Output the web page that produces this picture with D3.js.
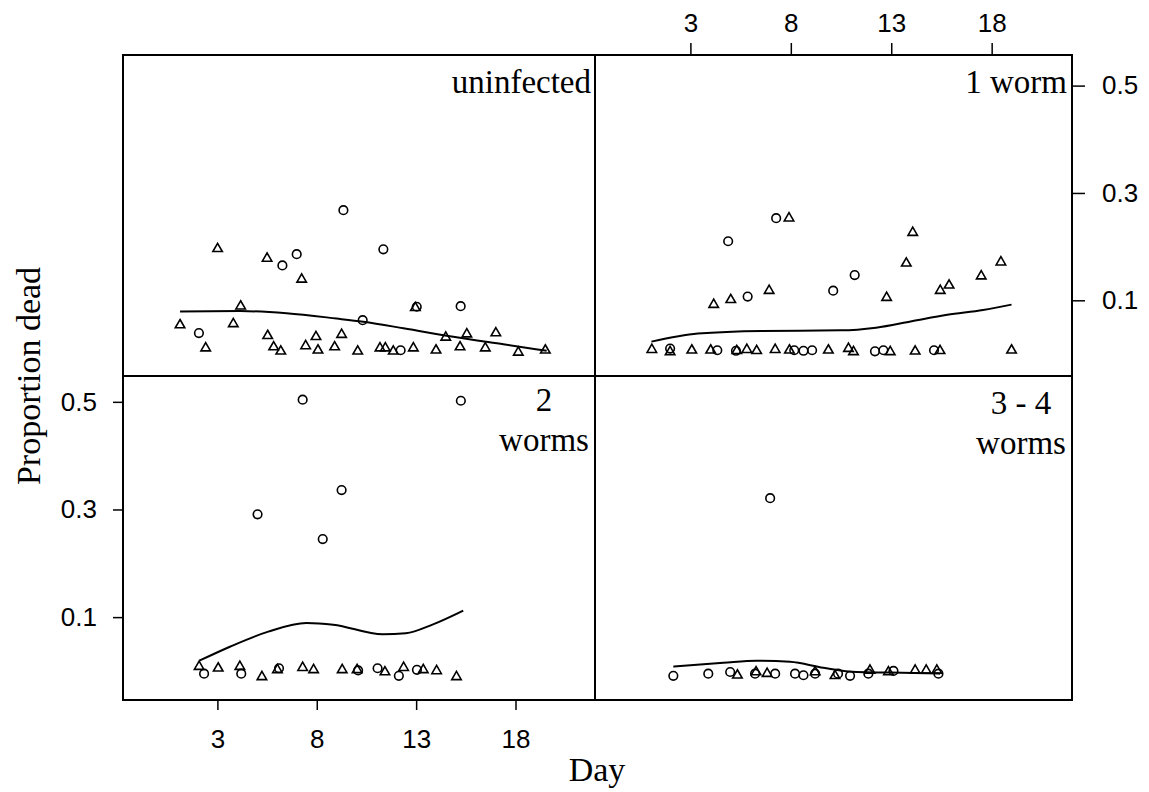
<!DOCTYPE html>
<html>
<head>
<meta charset="utf-8">
<script src="https://cdn.jsdelivr.net/npm/d3@7"></script>
<style>
  html, body { margin: 0; padding: 0; background: #fff; }
  svg { display: block; }
</style>
</head>
<body>
<svg id="chart" width="1149" height="792"></svg>
<script>
// ---- data: [day, proportion dead] ----
const dayTicks = [3, 8, 13, 18];
const propTicks = [0.1, 0.3, 0.5];
const panelNames = ["uninfected", "1 worm", "2 worms", "3 - 4 worms"];
const panelLabelLines = [["uninfected"], ["1 worm"], ["2", "worms"], ["3 - 4", "worms"]];

const uninfectedCircles = [[2.07,0.039],[6.27,0.165],[6.99,0.186],[9.34,0.268],[10.31,0.063],[11.35,0.195],[12.22,0.007],[13.03,0.088],[15.24,0.089]];
const uninfectedTriangles = [[1.12,0.054],[2.41,0.011],[3.01,0.196],[3.80,0.056],[4.17,0.089],[5.50,0.178],[5.53,0.034],[5.83,0.013],[6.19,0.005],[7.24,0.139],[7.44,0.015],[7.96,0.032],[8.06,0.007],[8.90,0.013],[9.25,0.036],[10.06,0.005],[11.18,0.011],[11.45,0.011],[11.85,0.005],[12.86,0.011],[12.96,0.086],[14.00,0.007],[14.49,0.031],[15.21,0.013],[15.55,0.037],[16.48,0.011],[17.01,0.039],[18.14,0.003],[19.50,0.007]];
const uninfectedSmooth = [[1.12,0.079],[4.14,0.080],[6.48,0.076],[9.00,0.066],[10.34,0.060],[12.36,0.048],[14.87,0.032],[17.39,0.018],[19.57,0.006]];

const oneWormCircles = [[4.88,0.210],[7.27,0.253],[5.85,0.107],[10.11,0.118],[11.18,0.147],[1.99,0.010],[4.34,0.007],[5.27,0.006],[8.17,0.007],[8.63,0.006],[9.06,0.007],[12.19,0.005],[12.61,0.007],[15.13,0.007]];
const oneWormTriangles = [[7.91,0.253],[14.07,0.226],[13.75,0.169],[18.46,0.171],[17.48,0.145],[15.88,0.128],[15.44,0.118],[12.77,0.105],[6.92,0.118],[5.01,0.101],[4.16,0.092],[1.08,0.008],[1.99,0.004],[3.07,0.007],[4.01,0.007],[5.31,0.006],[5.81,0.008],[6.30,0.006],[7.22,0.008],[7.93,0.007],[9.87,0.007],[10.87,0.010],[11.12,0.004],[12.95,0.004],[14.19,0.005],[15.43,0.006],[18.99,0.007]];
const oneWormSmooth = [[1.06,0.023],[3.37,0.038],[6.56,0.043],[10.47,0.044],[12.24,0.049],[14.02,0.061],[15.79,0.073],[17.57,0.082],[18.99,0.092]];

const twoWormsCircles = [[7.29,0.504],[15.25,0.502],[9.25,0.336],[5.02,0.291],[8.30,0.245],[2.33,-0.005],[4.20,-0.005],[6.10,0.005],[10.08,0.001],[11.06,0.005],[12.13,-0.009],[13.04,0.002]];
const twoWormsTriangles = [[2.08,0.008],[3.04,0.005],[4.13,0.008],[5.24,-0.011],[6.02,0.002],[7.29,0.006],[7.84,0.002],[9.28,0.002],[10.03,0.002],[11.43,-0.002],[12.37,0.006],[13.36,0.002],[14.03,0.000],[15.03,-0.011]];
const twoWormsSmooth = [[2.09,0.019],[3.63,0.045],[5.56,0.073],[7.48,0.089],[8.83,0.086],[11.32,0.068],[12.48,0.070],[13.82,0.086],[15.37,0.112]];

const threeFourCircles = [[6.97,0.321],[2.15,-0.009],[3.89,-0.005],[4.98,-0.002],[6.22,-0.005],[7.22,-0.005],[8.21,-0.005],[8.63,-0.008],[9.21,-0.005],[10.35,-0.005],[10.95,-0.009],[11.86,-0.005],[13.11,0.000],[15.35,-0.005]];
const threeFourTriangles = [[5.34,-0.008],[6.27,-0.002],[6.82,-0.005],[9.21,-0.002],[10.20,-0.009],[11.94,0.001],[12.86,-0.002],[14.19,0.001],[14.74,0.001],[15.27,0.001]];
const threeFourSmooth = [[2.15,0.008],[4.64,0.015],[6.30,0.019],[7.96,0.017],[9.62,0.006],[11.28,-0.002],[12.94,-0.003],[15.43,-0.005]];

const circleSets = [uninfectedCircles, oneWormCircles, twoWormsCircles, threeFourCircles];
const triangleSets = [uninfectedTriangles, oneWormTriangles, twoWormsTriangles, threeFourTriangles];
const smoothSets = [uninfectedSmooth, oneWormSmooth, twoWormsSmooth, threeFourSmooth];

// ---- layout ----
const svg = d3.select("#chart");
const colEdges = [[123, 595], [595, 1072]];
const rowEdges = [[55, 376], [376, 700]];
const dayDomain = [-1.75, 22.0];
const rowDomains = [[-0.041, 0.557], [-0.054, 0.548]];

const serif = "'Liberation Serif', 'Times New Roman', serif";
const sans = "'Liberation Sans', Arial, sans-serif";

const xScales = colEdges.map(c => d3.scaleLinear().domain(dayDomain).range(c));
const yScales = rowEdges.map((r, i) => d3.scaleLinear().domain(rowDomains[i]).range([r[1], r[0]]));

const circleSym = d3.symbol().type(d3.symbolCircle).size(Math.PI * 4.3 * 4.3);
const triSym = d3.symbol().type(d3.symbolTriangle).size(9.5 * 9.5 * Math.sqrt(3) / 4);

panelNames.forEach((name, i) => {
  const col = i % 2, row = i < 2 ? 0 : 1;
  const x = xScales[col], y = yScales[row];
  const g = svg.append("g").attr("class", "panel").attr("data-name", name);

  const line = d3.line().x(d => x(d[0])).y(d => y(d[1])).curve(d3.curveMonotoneX);
  g.append("path").datum(smoothSets[i])
    .attr("d", line).attr("fill", "none").attr("stroke", "#000").attr("stroke-width", 2);

  g.selectAll("path.tri").data(triangleSets[i]).join("path").attr("class", "tri")
    .attr("transform", d => `translate(${x(d[0])},${y(d[1])})`)
    .attr("d", triSym).attr("fill", "none").attr("stroke", "#000").attr("stroke-width", 1.6);

  g.selectAll("path.circ").data(circleSets[i]).join("path").attr("class", "circ")
    .attr("transform", d => `translate(${x(d[0])},${y(d[1])})`)
    .attr("d", circleSym).attr("fill", "none").attr("stroke", "#000").attr("stroke-width", 1.6);
});

// panel frame
svg.append("rect").attr("x", 123).attr("y", 55).attr("width", 1072 - 123).attr("height", 700 - 55)
  .attr("fill", "none").attr("stroke", "#000").attr("stroke-width", 2);
svg.append("line").attr("x1", 595).attr("x2", 595).attr("y1", 55).attr("y2", 700)
  .attr("stroke", "#000").attr("stroke-width", 2);
svg.append("line").attr("x1", 123).attr("x2", 1072).attr("y1", 376).attr("y2", 376)
  .attr("stroke", "#000").attr("stroke-width", 2);

// strip labels inside each panel
const labelPos = [
  { x: 591, y: [93], anchor: "end" },
  { x: 1067, y: [93], anchor: "end" },
  { x: 544, y: [411, 451], anchor: "middle" },
  { x: 1021, y: [414, 454], anchor: "middle" }
];
panelLabelLines.forEach((lines, i) => {
  const p = labelPos[i];
  lines.forEach((t, k) => {
    svg.append("text").attr("x", p.x).attr("y", p.y[k]).attr("text-anchor", p.anchor)
      .attr("font-family", serif).attr("font-size", 33).text(t);
  });
});

// axes alternate around the layout
function styleAxis(g) {
  g.select(".domain").remove();
  g.selectAll(".tick line").attr("stroke", "#000").attr("stroke-width", 1.5);
  g.selectAll(".tick text").attr("font-family", sans).attr("font-size", 26).attr("fill", "#000");
}
svg.append("g").attr("transform", "translate(0,701)")
  .call(d3.axisBottom(xScales[0]).tickValues(dayTicks).tickSize(9).tickPadding(20))
  .call(styleAxis);
svg.append("g").attr("transform", "translate(0,55)")
  .call(d3.axisTop(xScales[1]).tickValues(dayTicks).tickSize(12).tickPadding(11))
  .call(styleAxis);
svg.append("g").attr("transform", "translate(1072,0)")
  .call(d3.axisRight(yScales[0]).tickValues(propTicks).tickSize(13).tickPadding(17).tickFormat(d3.format(".1f")))
  .call(styleAxis);
svg.append("g").attr("transform", "translate(123,0)")
  .call(d3.axisLeft(yScales[1]).tickValues(propTicks).tickSize(10).tickPadding(16).tickFormat(d3.format(".1f")))
  .call(styleAxis);

// axis titles
svg.append("text").attr("x", 597).attr("y", 781).attr("text-anchor", "middle")
  .attr("font-family", serif).attr("font-size", 34).text("Day");
svg.append("text").attr("transform", "translate(40,376) rotate(-90)").attr("text-anchor", "middle")
  .attr("font-family", serif).attr("font-size", 34).text("Proportion dead");
</script>
</body>
</html>
